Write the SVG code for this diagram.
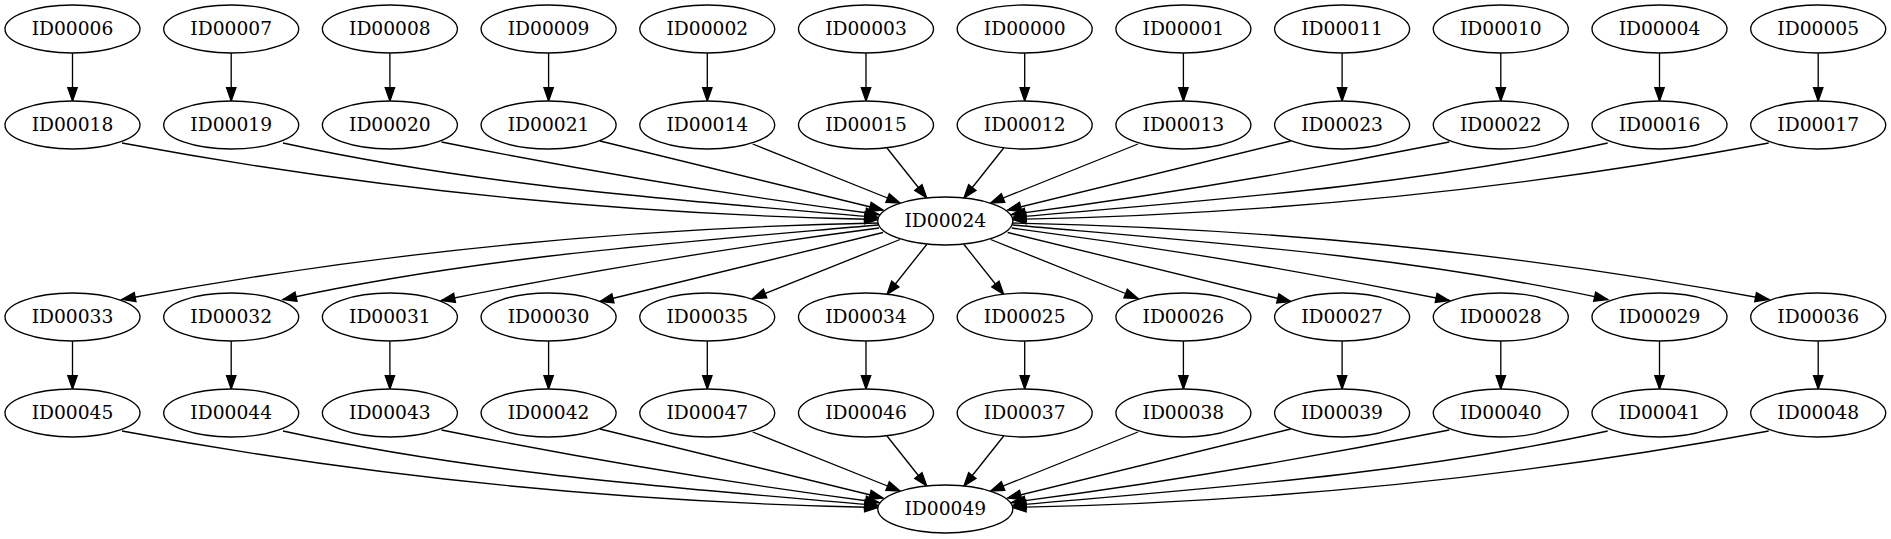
<svg xmlns="http://www.w3.org/2000/svg" width="1891" height="539" viewBox="0 0 1891 539">
<style>
.n ellipse{fill:#fff;stroke:#000;stroke-width:1.33}
.n text{font-family:"DejaVu Serif","Liberation Serif",serif;font-size:18.67px;text-anchor:middle;fill:#000}
.e path{fill:none;stroke:#000;stroke-width:1.33;marker-end:url(#ah)}
</style>
<defs>
<marker id="ah" markerUnits="userSpaceOnUse" markerWidth="16" markerHeight="12" refX="13.33" refY="0" viewBox="-1 -6 16 12" orient="auto" overflow="visible">
<path d="M0,-4.67 L13.33,0 L0,4.67 Z" fill="#000" stroke="#000" stroke-width="1.33"/>
</marker>
</defs>
<rect width="1891" height="539" fill="#fff"/>
<g id="edges" class="e">
<path d="M72.5,53 L72.5,101"/><path d="M231.2,53 L231.2,101"/><path d="M389.9,53 L389.9,101"/><path d="M548.6,53 L548.6,101"/><path d="M707.3,53 L707.3,101"/><path d="M866,53 L866,101"/><path d="M1024.7,53 L1024.7,101"/><path d="M1183.4,53 L1183.4,101"/><path d="M1342.1,53 L1342.1,101"/><path d="M1500.8,53 L1500.8,101"/><path d="M1659.5,53 L1659.5,101"/><path d="M1818.2,53 L1818.2,101"/>
<path d="M122,143 C374,189.9 626,214.5 878,219.5"/>
<path d="M283,143 C481.3,186.3 679.7,200.1 878,217.5"/>
<path d="M441.5,142 C587.3,171.2 733.2,195.5 879,214.5"/>
<path d="M600,141 L883,210"/>
<path d="M752.7,144 L900,203"/>
<path d="M887,148 L926.7,198"/>
<path d="M1768.7,143 C1516.7,189.9 1264.7,214.5 1012.7,219.5"/>
<path d="M1607.7,143 C1409.4,186.3 1211,200.1 1012.7,217.5"/>
<path d="M1449.2,142 C1303.4,171.2 1157.5,195.5 1011.7,214.5"/>
<path d="M1290.7,141 L1007.7,210"/>
<path d="M1138,144 L990.7,203"/>
<path d="M1003.7,148 L964,198"/>
<path d="M878,223 C626,228 374,252.6 122,299.5"/>
<path d="M878,225 C679.7,242.4 481.3,256.2 283,299.5"/>
<path d="M879,228 C733.2,247 587.3,271.3 441.5,300.5"/>
<path d="M883,232.5 L600,301.5"/>
<path d="M900,239.5 L752.7,298.5"/>
<path d="M926.7,244.5 L887,294.5"/>
<path d="M1012.7,223 C1264.7,228 1516.7,252.6 1768.7,299.5"/>
<path d="M1012.7,225 C1211,242.4 1409.4,256.2 1607.7,299.5"/>
<path d="M1011.7,228 C1157.5,247 1303.4,271.3 1449.2,300.5"/>
<path d="M1007.7,232.5 L1290.7,301.5"/>
<path d="M990.7,239.5 L1138,298.5"/>
<path d="M964,244.5 L1003.7,294.5"/>
<path d="M72.5,341 L72.5,389"/><path d="M231.2,341 L231.2,389"/><path d="M389.9,341 L389.9,389"/><path d="M548.6,341 L548.6,389"/><path d="M707.3,341 L707.3,389"/><path d="M866,341 L866,389"/><path d="M1024.7,341 L1024.7,389"/><path d="M1183.4,341 L1183.4,389"/><path d="M1342.1,341 L1342.1,389"/><path d="M1500.8,341 L1500.8,389"/><path d="M1659.5,341 L1659.5,389"/><path d="M1818.2,341 L1818.2,389"/>
<path d="M122,431 C374,477.9 626,502.5 878,507.5"/>
<path d="M283,431 C481.3,474.3 679.7,488.1 878,505.5"/>
<path d="M441.5,430 C587.3,459.2 733.2,483.5 879,502.5"/>
<path d="M600,429 L883,498"/>
<path d="M752.7,432 L900,491"/>
<path d="M887,436 L926.7,486"/>
<path d="M1768.7,431 C1516.7,477.9 1264.7,502.5 1012.7,507.5"/>
<path d="M1607.7,431 C1409.4,474.3 1211,488.1 1012.7,505.5"/>
<path d="M1449.2,430 C1303.4,459.2 1157.5,483.5 1011.7,502.5"/>
<path d="M1290.7,429 L1007.7,498"/>
<path d="M1138,432 L990.7,491"/>
<path d="M1003.7,436 L964,486"/>
</g>
<g id="ID00006" class="n"><ellipse cx="72.5" cy="29" rx="67.5" ry="24"/><text x="72.5" y="34.5">ID00006</text></g>
<g id="ID00007" class="n"><ellipse cx="231.2" cy="29" rx="67.5" ry="24"/><text x="231.2" y="34.5">ID00007</text></g>
<g id="ID00008" class="n"><ellipse cx="389.9" cy="29" rx="67.5" ry="24"/><text x="389.9" y="34.5">ID00008</text></g>
<g id="ID00009" class="n"><ellipse cx="548.6" cy="29" rx="67.5" ry="24"/><text x="548.6" y="34.5">ID00009</text></g>
<g id="ID00002" class="n"><ellipse cx="707.3" cy="29" rx="67.5" ry="24"/><text x="707.3" y="34.5">ID00002</text></g>
<g id="ID00003" class="n"><ellipse cx="866" cy="29" rx="67.5" ry="24"/><text x="866" y="34.5">ID00003</text></g>
<g id="ID00000" class="n"><ellipse cx="1024.7" cy="29" rx="67.5" ry="24"/><text x="1024.7" y="34.5">ID00000</text></g>
<g id="ID00001" class="n"><ellipse cx="1183.4" cy="29" rx="67.5" ry="24"/><text x="1183.4" y="34.5">ID00001</text></g>
<g id="ID00011" class="n"><ellipse cx="1342.1" cy="29" rx="67.5" ry="24"/><text x="1342.1" y="34.5">ID00011</text></g>
<g id="ID00010" class="n"><ellipse cx="1500.8" cy="29" rx="67.5" ry="24"/><text x="1500.8" y="34.5">ID00010</text></g>
<g id="ID00004" class="n"><ellipse cx="1659.5" cy="29" rx="67.5" ry="24"/><text x="1659.5" y="34.5">ID00004</text></g>
<g id="ID00005" class="n"><ellipse cx="1818.2" cy="29" rx="67.5" ry="24"/><text x="1818.2" y="34.5">ID00005</text></g>
<g id="ID00018" class="n"><ellipse cx="72.5" cy="125" rx="67.5" ry="24"/><text x="72.5" y="130.5">ID00018</text></g>
<g id="ID00019" class="n"><ellipse cx="231.2" cy="125" rx="67.5" ry="24"/><text x="231.2" y="130.5">ID00019</text></g>
<g id="ID00020" class="n"><ellipse cx="389.9" cy="125" rx="67.5" ry="24"/><text x="389.9" y="130.5">ID00020</text></g>
<g id="ID00021" class="n"><ellipse cx="548.6" cy="125" rx="67.5" ry="24"/><text x="548.6" y="130.5">ID00021</text></g>
<g id="ID00014" class="n"><ellipse cx="707.3" cy="125" rx="67.5" ry="24"/><text x="707.3" y="130.5">ID00014</text></g>
<g id="ID00015" class="n"><ellipse cx="866" cy="125" rx="67.5" ry="24"/><text x="866" y="130.5">ID00015</text></g>
<g id="ID00012" class="n"><ellipse cx="1024.7" cy="125" rx="67.5" ry="24"/><text x="1024.7" y="130.5">ID00012</text></g>
<g id="ID00013" class="n"><ellipse cx="1183.4" cy="125" rx="67.5" ry="24"/><text x="1183.4" y="130.5">ID00013</text></g>
<g id="ID00023" class="n"><ellipse cx="1342.1" cy="125" rx="67.5" ry="24"/><text x="1342.1" y="130.5">ID00023</text></g>
<g id="ID00022" class="n"><ellipse cx="1500.8" cy="125" rx="67.5" ry="24"/><text x="1500.8" y="130.5">ID00022</text></g>
<g id="ID00016" class="n"><ellipse cx="1659.5" cy="125" rx="67.5" ry="24"/><text x="1659.5" y="130.5">ID00016</text></g>
<g id="ID00017" class="n"><ellipse cx="1818.2" cy="125" rx="67.5" ry="24"/><text x="1818.2" y="130.5">ID00017</text></g>
<g id="ID00024" class="n"><ellipse cx="945.3" cy="221" rx="67.5" ry="24"/><text x="945.3" y="226.5">ID00024</text></g>
<g id="ID00033" class="n"><ellipse cx="72.5" cy="317" rx="67.5" ry="24"/><text x="72.5" y="322.5">ID00033</text></g>
<g id="ID00032" class="n"><ellipse cx="231.2" cy="317" rx="67.5" ry="24"/><text x="231.2" y="322.5">ID00032</text></g>
<g id="ID00031" class="n"><ellipse cx="389.9" cy="317" rx="67.5" ry="24"/><text x="389.9" y="322.5">ID00031</text></g>
<g id="ID00030" class="n"><ellipse cx="548.6" cy="317" rx="67.5" ry="24"/><text x="548.6" y="322.5">ID00030</text></g>
<g id="ID00035" class="n"><ellipse cx="707.3" cy="317" rx="67.5" ry="24"/><text x="707.3" y="322.5">ID00035</text></g>
<g id="ID00034" class="n"><ellipse cx="866" cy="317" rx="67.5" ry="24"/><text x="866" y="322.5">ID00034</text></g>
<g id="ID00025" class="n"><ellipse cx="1024.7" cy="317" rx="67.5" ry="24"/><text x="1024.7" y="322.5">ID00025</text></g>
<g id="ID00026" class="n"><ellipse cx="1183.4" cy="317" rx="67.5" ry="24"/><text x="1183.4" y="322.5">ID00026</text></g>
<g id="ID00027" class="n"><ellipse cx="1342.1" cy="317" rx="67.5" ry="24"/><text x="1342.1" y="322.5">ID00027</text></g>
<g id="ID00028" class="n"><ellipse cx="1500.8" cy="317" rx="67.5" ry="24"/><text x="1500.8" y="322.5">ID00028</text></g>
<g id="ID00029" class="n"><ellipse cx="1659.5" cy="317" rx="67.5" ry="24"/><text x="1659.5" y="322.5">ID00029</text></g>
<g id="ID00036" class="n"><ellipse cx="1818.2" cy="317" rx="67.5" ry="24"/><text x="1818.2" y="322.5">ID00036</text></g>
<g id="ID00045" class="n"><ellipse cx="72.5" cy="413" rx="67.5" ry="24"/><text x="72.5" y="418.5">ID00045</text></g>
<g id="ID00044" class="n"><ellipse cx="231.2" cy="413" rx="67.5" ry="24"/><text x="231.2" y="418.5">ID00044</text></g>
<g id="ID00043" class="n"><ellipse cx="389.9" cy="413" rx="67.5" ry="24"/><text x="389.9" y="418.5">ID00043</text></g>
<g id="ID00042" class="n"><ellipse cx="548.6" cy="413" rx="67.5" ry="24"/><text x="548.6" y="418.5">ID00042</text></g>
<g id="ID00047" class="n"><ellipse cx="707.3" cy="413" rx="67.5" ry="24"/><text x="707.3" y="418.5">ID00047</text></g>
<g id="ID00046" class="n"><ellipse cx="866" cy="413" rx="67.5" ry="24"/><text x="866" y="418.5">ID00046</text></g>
<g id="ID00037" class="n"><ellipse cx="1024.7" cy="413" rx="67.5" ry="24"/><text x="1024.7" y="418.5">ID00037</text></g>
<g id="ID00038" class="n"><ellipse cx="1183.4" cy="413" rx="67.5" ry="24"/><text x="1183.4" y="418.5">ID00038</text></g>
<g id="ID00039" class="n"><ellipse cx="1342.1" cy="413" rx="67.5" ry="24"/><text x="1342.1" y="418.5">ID00039</text></g>
<g id="ID00040" class="n"><ellipse cx="1500.8" cy="413" rx="67.5" ry="24"/><text x="1500.8" y="418.5">ID00040</text></g>
<g id="ID00041" class="n"><ellipse cx="1659.5" cy="413" rx="67.5" ry="24"/><text x="1659.5" y="418.5">ID00041</text></g>
<g id="ID00048" class="n"><ellipse cx="1818.2" cy="413" rx="67.5" ry="24"/><text x="1818.2" y="418.5">ID00048</text></g>
<g id="ID00049" class="n"><ellipse cx="945.3" cy="509" rx="67.5" ry="24"/><text x="945.3" y="514.5">ID00049</text></g>
</svg>
